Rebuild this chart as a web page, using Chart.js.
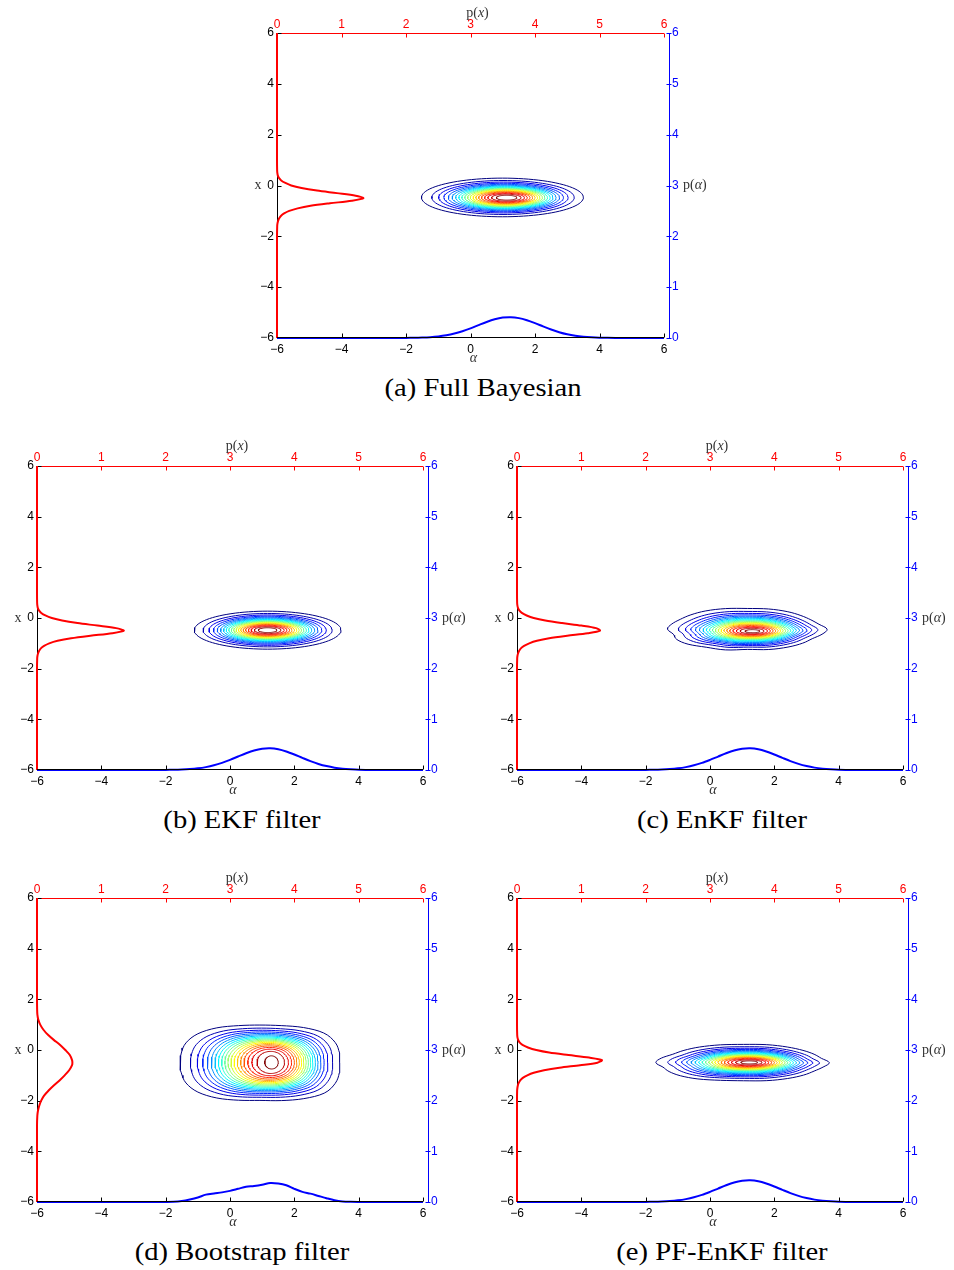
<!DOCTYPE html>
<html>
<head>
<meta charset="utf-8">
<script src="https://cdn.jsdelivr.net/npm/chart.js@4.4.0/dist/chart.umd.min.js"></script>
<style>
  body { margin: 0; background: #fff; width: 954px; height: 1270px; position: relative; overflow: hidden; }
  canvas { position: absolute; }
  .cap { position: absolute; font-family: 'Liberation Serif', serif; font-size: 26px; line-height: 30px;
         transform: translateX(-50%) scaleX(1.1); white-space: nowrap; color: #000; }
</style>
</head>
<body>
<script>
// panel captions
const panelCaptions = ['(a) Full Bayesian', '(b) EKF filter', '(c) EnKF filter', '(d) Bootstrap filter', '(e) PF-EnKF filter'];

// marginal p(x), sampled along x (read top to bottom)
const xGridNarrow = [6, 1, 0.6, 0.5, 0.4, 0.3, 0.2, 0.1, 0, -0.1, -0.2, -0.3, -0.4, -0.5, -0.6, -0.7, -0.8, -0.9, -1.0, -1.1, -1.2, -1.3, -1.4, -1.5, -1.6, -2, -6];
const xGridWide = [6, 2, 1.6, 1.4, 1.2, 1.0, 0.8, 0.6, 0.4, 0.2, 0, -0.2, -0.4, -0.5, -0.6, -0.8, -1.0, -1.2, -1.4, -1.6, -1.8, -2.0, -2.2, -2.4, -2.6, -3, -6];
const pxA = [0, 0, 0.002, 0.005, 0.012, 0.03, 0.065, 0.13, 0.22, 0.38, 0.62, 0.93, 1.22, 1.34, 1.16, 0.82, 0.52, 0.32, 0.19, 0.11, 0.06, 0.032, 0.016, 0.007, 0.003, 0, 0];
const pxB = [0, 0, 0.002, 0.005, 0.012, 0.03, 0.066, 0.13, 0.23, 0.39, 0.63, 0.94, 1.23, 1.35, 1.17, 0.83, 0.53, 0.32, 0.19, 0.11, 0.06, 0.032, 0.016, 0.007, 0.003, 0, 0];
const pxC = [0, 0, 0.002, 0.006, 0.015, 0.035, 0.075, 0.15, 0.26, 0.44, 0.70, 1.00, 1.23, 1.29, 1.10, 0.78, 0.50, 0.31, 0.19, 0.11, 0.06, 0.032, 0.016, 0.007, 0.003, 0, 0];
const pxD = [0, 0, 0.002, 0.006, 0.02, 0.05, 0.10, 0.17, 0.26, 0.36, 0.44, 0.51, 0.545, 0.55, 0.545, 0.50, 0.43, 0.35, 0.26, 0.18, 0.11, 0.065, 0.035, 0.015, 0.005, 0, 0];
const pxE = [0, 0, 0.003, 0.007, 0.018, 0.04, 0.085, 0.17, 0.30, 0.50, 0.80, 1.12, 1.32, 1.25, 0.98, 0.66, 0.42, 0.26, 0.16, 0.09, 0.05, 0.027, 0.013, 0.006, 0.002, 0, 0];

// marginal p(alpha), sampled along alpha
const alphaGrid = [-6, -4, -3, -2.5, -2, -1.75, -1.5, -1.25, -1, -0.75, -0.5, -0.25, 0, 0.25, 0.5, 0.75, 1, 1.25, 1.5, 1.75, 2, 2.25, 2.5, 2.75, 3, 3.25, 3.5, 3.75, 4, 4.5, 5, 6];
const paA = [0, 0, 0, 0, 0.002, 0.004, 0.009, 0.017, 0.031, 0.054, 0.088, 0.134, 0.19, 0.254, 0.316, 0.368, 0.401, 0.409, 0.391, 0.349, 0.292, 0.228, 0.167, 0.114, 0.073, 0.044, 0.025, 0.013, 0.006, 0.001, 0, 0];
const paB = [0, 0, 0, 0, 0.002, 0.004, 0.009, 0.018, 0.033, 0.057, 0.092, 0.14, 0.20, 0.266, 0.331, 0.386, 0.42, 0.429, 0.41, 0.366, 0.306, 0.239, 0.175, 0.12, 0.077, 0.046, 0.026, 0.014, 0.006, 0.001, 0, 0];
const paC = [0, 0, 0, 0, 0.002, 0.004, 0.009, 0.018, 0.033, 0.057, 0.092, 0.14, 0.20, 0.265, 0.33, 0.385, 0.418, 0.427, 0.41, 0.366, 0.306, 0.24, 0.176, 0.121, 0.078, 0.047, 0.027, 0.014, 0.006, 0.001, 0, 0];
const paD = [0, 0, 0.001, 0.001, 0.002, 0.005, 0.02, 0.05, 0.09, 0.145, 0.17, 0.19, 0.22, 0.26, 0.30, 0.315, 0.34, 0.375, 0.365, 0.33, 0.26, 0.20, 0.165, 0.12, 0.075, 0.035, 0.012, 0.004, 0.002, 0.001, 0.001, 0];
const paE = [0, 0, 0, 0, 0.002, 0.004, 0.009, 0.018, 0.033, 0.057, 0.092, 0.14, 0.20, 0.265, 0.33, 0.385, 0.418, 0.427, 0.41, 0.366, 0.306, 0.24, 0.176, 0.121, 0.078, 0.047, 0.027, 0.014, 0.006, 0.001, 0, 0];

// joint density contours: relative ring size per level, outermost first
const ringLevels = [1.000, 0.879, 0.799, 0.738, 0.686, 0.641, 0.600, 0.563, 0.528, 0.494, 0.461, 0.429, 0.397, 0.365, 0.332, 0.299, 0.263, 0.225, 0.181, 0.126];
// per panel: [alpha, x] centres and half widths of outer and inner rings
const outerCenter = [[0.99, -0.47], [1.17, -0.48], [1.16, -0.44], [0.93, -0.51], [1.04, -0.50]];
const innerCenter = [[1.12, -0.48], [1.17, -0.48], [1.32, -0.52], [1.29, -0.49], [1.22, -0.49]];
const outerSemi = [[2.51, 0.76], [2.28, 0.75], [2.48, 0.80], [2.48, 1.48], [2.67, 0.70]];
const innerSemi = [[0.32, 0.096], [0.29, 0.095], [0.23, 0.06], [0.21, 0.26], [0.26, 0.06]];
const ringGamma = [[1, 1], [1, 1], [1, 1], [0.85, 0.7], [1, 1]];
// outer ring wobble, 24 steps of 15 degrees counter-clockwise from +alpha
const profileC = [1.00, 0.93, 0.92, 0.95, 1.00, 1.03, 1.02, 1.05, 1.04, 1.00, 0.97, 0.98, 1.00, 0.96, 1.02, 1.05, 1.03, 1.06, 1.00, 1.04, 1.02, 0.98, 0.94, 0.97];
const profileD = [1.00, 1.03, 1.09, 1.13, 1.09, 1.03, 1.01, 1.03, 1.08, 1.10, 1.07, 1.02, 1.00, 1.02, 1.07, 1.10, 1.08, 1.03, 1.00, 1.04, 1.10, 1.14, 1.09, 1.03];
const profileE = [1.00, 0.94, 0.95, 0.98, 1.02, 1.05, 1.03, 1.04, 1.02, 0.98, 0.95, 0.99, 1.02, 0.97, 1.00, 1.04, 1.06, 1.03, 1.02, 1.05, 1.03, 0.99, 0.95, 0.96];

const pxSets = [pxA, pxB, pxC, pxD, pxE];
const xGrids = [xGridNarrow, xGridNarrow, xGridNarrow, xGridWide, xGridNarrow];
const paSets = [paA, paB, paC, paD, paE];
const profiles = [null, null, profileC, profileD, profileE];

// plot boxes on the page: left, top, width, height
const areas = [[277, 33, 387, 305], [37, 466, 386, 304], [517, 466, 386, 304], [37, 898, 386, 304], [517, 898, 386, 304]];
const L = 36, R = 50, T = 33, B = 34;
const RED = '#ff0000', BLUE = '#0000ff';

function jet(v) {
  const c = t => Math.round(255 * Math.max(0, Math.min(1, t)));
  return 'rgb(' + c(1.5 - Math.abs(4 * v - 3)) + ',' + c(1.5 - Math.abs(4 * v - 2)) + ',' + c(1.5 - Math.abs(4 * v - 1)) + ')';
}

function profileAt(p, th) {
  if (!p) return 1;
  const n = p.length;
  const u = th / (2 * Math.PI) * n;
  const i1 = Math.floor(u) % n, f = u - Math.floor(u);
  const p0 = p[(i1 - 1 + n) % n], p1 = p[i1], p2 = p[(i1 + 1) % n], p3 = p[(i1 + 2) % n];
  return 0.5 * (2 * p1 + (-p0 + p2) * f + (2 * p0 - 5 * p1 + 4 * p2 - p3) * f * f + (-p0 + 3 * p1 - 3 * p2 + p3) * f * f * f);
}

function ringDatasets(i) {
  const n = ringLevels.length, sMin = ringLevels[n - 1];
  const out = [];
  for (let k = 0; k < n; k++) {
    const t = (ringLevels[k] - sMin) / (1 - sMin);
    const ta = Math.pow(t, ringGamma[i][0]), tb = Math.pow(t, ringGamma[i][1]);
    const ca = innerCenter[i][0] + (outerCenter[i][0] - innerCenter[i][0]) * t;
    const cx = innerCenter[i][1] + (outerCenter[i][1] - innerCenter[i][1]) * t;
    const a = innerSemi[i][0] + (outerSemi[i][0] - innerSemi[i][0]) * ta;
    const b = innerSemi[i][1] + (outerSemi[i][1] - innerSemi[i][1]) * tb;
    const pts = [];
    for (let j = 0; j <= 96; j++) {
      const th = 2 * Math.PI * j / 96;
      const f = 1 + (profileAt(profiles[i], th) - 1) * t;
      pts.push({ x: ca + a * f * Math.cos(th), y: cx + b * f * Math.sin(th) });
    }
    out.push({ data: pts, showLine: true, pointRadius: 0, borderWidth: 1, borderColor: jet(k / (n - 1)),
               tension: 0, xAxisID: 'x', yAxisID: 'y' });
  }
  return out;
}

const fmt = v => String(v).replace('-', '\u2212');

function seg(ctx, color, x1, y1, x2, y2) {
  ctx.strokeStyle = color;
  ctx.beginPath(); ctx.moveTo(x1, y1); ctx.lineTo(x2, y2); ctx.stroke();
}

// axis lines and inward ticks, under the curves
const axisLines = {
  id: 'axisLines',
  beforeDatasetsDraw(chart) {
    const { ctx, chartArea: a, scales: s } = chart;
    ctx.save();
    ctx.lineWidth = 1;
    const l = a.left + 0.5, bt = a.bottom - 0.5, tp = a.top + 0.5, rx = a.right + 5.5;
    seg(ctx, '#000', l, a.top, l, a.bottom);
    seg(ctx, RED, a.left, tp, a.right, tp);
    seg(ctx, BLUE, rx, a.top, rx, a.bottom);
    s.x.ticks.forEach(t => { const p = Math.round(s.x.getPixelForValue(t.value)) + 0.5; seg(ctx, '#000', p, bt, p, bt - 4); });
    s.y.ticks.forEach(t => { const p = Math.round(s.y.getPixelForValue(t.value)) + 0.5; seg(ctx, '#000', l, p, l + 4, p); });
    s.x2.ticks.forEach(t => { const p = Math.round(s.x2.getPixelForValue(t.value)) + 0.5; seg(ctx, RED, p, tp, p, tp + 4); });
    s.y2.ticks.forEach(t => { const p = Math.round(s.y2.getPixelForValue(t.value)) + 0.5; seg(ctx, BLUE, rx - 3, p, rx + 2, p); });
    ctx.restore();
  },
  // the alpha axis sits over the flat tails of p(alpha)
  afterDatasetsDraw(chart) {
    const { ctx, chartArea: a } = chart;
    ctx.save();
    ctx.lineWidth = 1;
    seg(ctx, '#000', a.left, a.bottom - 0.5, a.right, a.bottom - 0.5);
    ctx.restore();
  }
};

const labelFont = it => (it ? 'italic ' : '') + '14px "Liberation Serif", serif';

function richText(ctx, parts, x, y, align) {
  let w = 0;
  parts.forEach(p => { ctx.font = labelFont(p[1]); w += ctx.measureText(p[0]).width; });
  let cx = align === 'center' ? x - w / 2 : x;
  parts.forEach(p => {
    ctx.font = labelFont(p[1]);
    ctx.fillText(p[0], cx, y);
    cx += ctx.measureText(p[0]).width;
  });
}

// axis names
const axisNames = {
  id: 'axisNames',
  afterDraw(chart) {
    const { ctx, chartArea: a } = chart;
    const mx = (a.left + a.right) / 2, my = (a.top + a.bottom) / 2;
    ctx.save();
    ctx.fillStyle = '#333';
    ctx.textBaseline = 'middle';
    ctx.textAlign = 'left';
    richText(ctx, [['p(', false], ['x', true], [')', false]], mx + 7, a.top - 20, 'center');
    richText(ctx, [['\u03b1', true]], mx + 3, a.bottom + 20, 'center');
    richText(ctx, [['x', false]], a.left - 19, my, 'center');
    richText(ctx, [['p(', false], ['\u03b1', true], [')', false]], a.right + 19, my, 'left');
    ctx.restore();
  }
};

const tickFont = { family: '"Liberation Sans", Arial, sans-serif', size: 12 };

function makePanel(i) {
  const [left, top, w, h] = areas[i];
  const cv = document.createElement('canvas');
  cv.width = w + L + R; cv.height = h + T + B;
  cv.style.left = (left - L) + 'px'; cv.style.top = (top - T) + 'px';
  cv.style.width = cv.width + 'px'; cv.style.height = cv.height + 'px';
  document.body.appendChild(cv);

  // caption sits under the whole panel, right axis label included
  const cap = document.createElement('div');
  cap.className = 'cap';
  cap.textContent = panelCaptions[i];
  cap.style.left = (left + w / 2 + 12) + 'px';
  cap.style.top = (top + h + 35) + 'px';
  document.body.appendChild(cap);

  const xs = xGrids[i], px = pxSets[i], pa = paSets[i];
  const datasets = [
    { data: xs.map((v, j) => ({ x: px[j], y: v })), showLine: true, pointRadius: 0, borderWidth: 2,
      borderColor: RED, tension: 0.3, clip: 4, xAxisID: 'x2', yAxisID: 'y' },
    { data: alphaGrid.map((v, j) => ({ x: v, y: pa[j] })), showLine: true, pointRadius: 0, borderWidth: 2,
      borderColor: BLUE, tension: 0.3, clip: 4, xAxisID: 'x', yAxisID: 'y2' }
  ].concat(ringDatasets(i));

  const base = { type: 'linear', grid: { display: false, drawTicks: false }, border: { display: false } };
  new Chart(cv, {
    type: 'scatter',
    data: { datasets },
    options: {
      responsive: false, animation: false, events: [],
      layout: { padding: 0 },
      plugins: { legend: { display: false }, tooltip: { enabled: false } },
      scales: {
        x: Object.assign({}, base, { position: 'bottom', min: -6, max: 6,
          ticks: { stepSize: 2, color: '#000', font: tickFont, padding: 4, maxRotation: 0, autoSkip: false, callback: fmt },
          afterFit: sc => { sc.height = B; } }),
        y: Object.assign({}, base, { position: 'left', min: -6, max: 6,
          ticks: { stepSize: 2, color: '#000', font: tickFont, padding: 3, autoSkip: false, callback: fmt },
          afterFit: sc => { sc.width = L; } }),
        x2: Object.assign({}, base, { position: 'top', min: 0, max: 6,
          ticks: { stepSize: 1, color: RED, font: tickFont, padding: 1, maxRotation: 0, autoSkip: false, callback: fmt },
          afterFit: sc => { sc.height = T; } }),
        y2: Object.assign({}, base, { position: 'right', min: 0, max: 6,
          ticks: { stepSize: 1, color: BLUE, font: tickFont, padding: 8, autoSkip: false, callback: fmt },
          afterFit: sc => { sc.width = R; } })
      }
    },
    plugins: [axisLines, axisNames]
  });
}

for (let i = 0; i < areas.length; i++) makePanel(i);
</script>
</body>
</html>
